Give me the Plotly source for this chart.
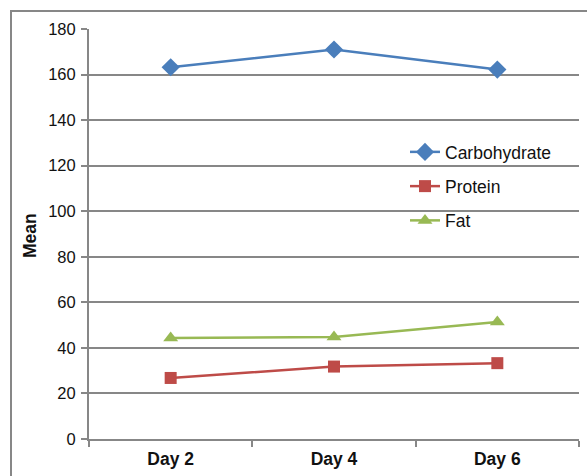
import plotly.graph_objects as go

days = ["Day 2", "Day 4", "Day 6"]
carbohydrate = [163.2, 171.0, 162.2]
protein = [26.8, 31.8, 33.3]
fat = [44.3, 44.8, 51.4]
y_ticks = [0, 20, 40, 60, 80, 100, 120, 140, 160, 180]

W, H = 587, 476
ML, MR, MT, MB = 89, 8, 29, 37
pw, ph = W - ML - MR, H - MT - MB
FONT = "Liberation Sans, Arial, sans-serif"

fig = go.Figure()
series = [
    ("Carbohydrate", carbohydrate, "#4a7ebb", "diamond", 14),
    ("Protein", protein, "#be4b48", "square", 12),
    ("Fat", fat, "#98b954", "triangle-up", 13),
]
for name, vals, color, symbol, size in series:
    fig.add_trace(go.Scatter(
        x=days, y=vals, name=name, mode="lines+markers", legendgroup=name,
        line=dict(color=color, width=2.5),
        marker=dict(symbol=symbol, size=size, color=color),
    ))

grey = "#878787"
fig.update_layout(
    width=W, height=H,
    margin=dict(l=ML, r=MR, t=MT, b=MB),
    paper_bgcolor="white", plot_bgcolor="white",
    font=dict(family=FONT, color="#111111"),
    showlegend=True,
    legend=dict(
        x=(405 - ML) / pw, y=(439 - 134) / ph, xanchor="left", yanchor="top",
        bgcolor="rgba(0,0,0,0)", font=dict(size=17.5), traceorder="grouped",
        tracegroupgap=8.5, itemwidth=30,
    ),
    xaxis=dict(
        type="category", range=[-0.5, 2.5], tickson="boundaries",
        ticks="outside", ticklen=6, tickcolor=grey, tickwidth=2,
        showline=True, linecolor=grey, linewidth=2,
        showgrid=False,
        tickfont=dict(size=17.5),
        ticklabelstandoff=3,
        tickvals=days, ticktext=[f"<b>{d}</b>" for d in days],
    ),
    yaxis=dict(
        range=[0, 180], tickvals=y_ticks,
        ticks="outside", ticklen=6, tickcolor=grey, tickwidth=2,
        showline=True, linecolor=grey, linewidth=2,
        showgrid=True, gridcolor=grey, gridwidth=2,
        zeroline=False,
        tickfont=dict(size=16.5),
        ticklabelstandoff=2,
    ),
)

# Rotated y-axis title
fig.add_annotation(
    text="<b>Mean</b>", textangle=-90, showarrow=False,
    xref="paper", yref="paper", x=(30 - ML) / pw, y=(439 - 236) / ph,
    xanchor="center", yanchor="middle", font=dict(size=17.5),
)

# Outer chart frame
fig.add_shape(
    type="rect", xref="paper", yref="paper",
    x0=(11 - ML) / pw, x1=(W + 20 - ML) / pw,
    y0=-(H + 20 - 439) / ph, y1=(439 - 11) / ph,
    line=dict(color=grey, width=2), fillcolor="rgba(0,0,0,0)", layer="below",
)

fig.write_html("out.html")
